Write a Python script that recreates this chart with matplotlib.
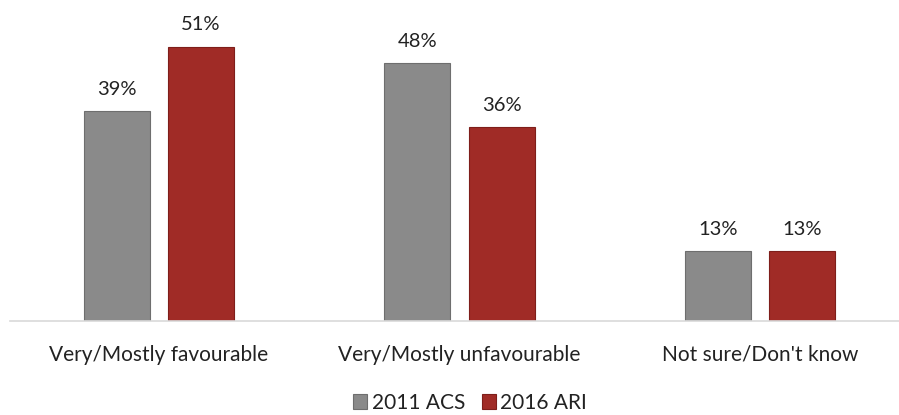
import matplotlib
matplotlib.use("Agg")
import matplotlib.pyplot as plt
import numpy as np

categories = ["Very/Mostly favourable", "Very/Mostly unfavourable", "Not sure/Don't know"]
series_names = ["2011 ACS", "2016 ARI"]
acs_2011 = [39, 48, 13]
ari_2016 = [51, 36, 13]

colors = ["#8a8a8a", "#a02b26"]
edges = ["#6e6e6e", "#7e1e1a"]

plt.rcParams['font.family'] = ['Lato', 'DejaVu Sans']

fig = plt.figure(figsize=(8.99, 4.15), dpi=100)
ax = fig.add_axes([10/899, (415-321)/415, 889/899, 321/415])

x = np.arange(len(categories))
w = 0.22
off = 0.14
bars = []
for i, (vals, c, ec) in enumerate(zip([acs_2011, ari_2016], colors, edges)):
    b = ax.bar(x + (-off if i == 0 else off), vals, width=w, color=c,
               edgecolor=ec, linewidth=0.8, label=series_names[i], zorder=2)
    bars.append(b)
    for rect, v in zip(b, vals):
        ax.annotate(f"{v}%", (rect.get_x() + rect.get_width()/2, v),
                    xytext=(0, 9.5), textcoords="offset points",
                    ha="center", va="bottom", fontsize=14.5, color="#222222")

ax.set_xlim((10-159)/300.5, (899-159)/300.5)
ax.set_ylim(0, 321/5.38)
for s in ["top", "right", "left"]:
    ax.spines[s].set_visible(False)
ax.spines["bottom"].set_color("#d9d9d9")
ax.spines["bottom"].set_linewidth(1.2)
ax.set_yticks([])
ax.set_xticks(x)
ax.set_xticklabels(categories, fontsize=15, color="#222222")
ax.tick_params(axis="x", length=0, pad=17)

leg = fig.legend(handles=[bars[0], bars[1]], labels=series_names, loc="center",
                 bbox_to_anchor=(470/899, 1 - 403/415), ncol=2, frameon=False,
                 fontsize=15, handlelength=0.7, handleheight=0.7,
                 handletextpad=0.2, columnspacing=0.8)
for t in leg.get_texts():
    t.set_color("#222222")

fig.savefig("out.png", dpi=100)
